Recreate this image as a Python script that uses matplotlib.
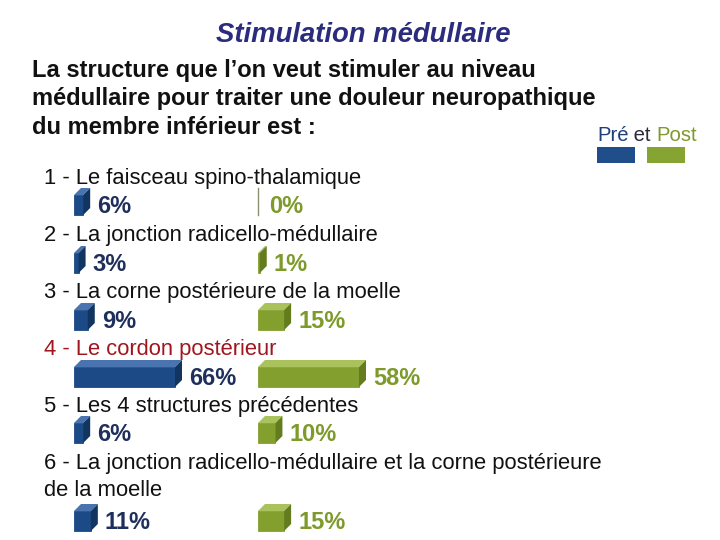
import matplotlib
matplotlib.use("Agg")
import matplotlib.pyplot as plt
from matplotlib.patches import Polygon, Rectangle

plt.rcParams['font.family'] = ['Liberation Sans', 'DejaVu Sans']

title = "Stimulation médullaire"
question = ["La structure que l\u2019on veut stimuler au niveau",
            "médullaire pour traiter une douleur neuropathique",
            "du membre inférieur est :"]
items = [["1 - Le faisceau spino-thalamique"],
         ["2 - La jonction radicello-médullaire"],
         ["3 - La corne postérieure de la moelle"],
         ["4 - Le cordon postérieur"],
         ["5 - Les 4 structures précédentes"],
         ["6 - La jonction radicello-médullaire et la corne postérieure",
          "de la moelle"]]
pre = [6, 3, 9, 66, 6, 11]
post = [0, 1, 15, 58, 10, 15]
correct_item = 3

# layout (pixel coordinates)
item_base = [184, 241, 298, 355, 412, 469]
bar_center = [205, 263, 320, 377, 433, 521]
line_gap = 27
bar_h = 20
max_w = 101
dx, dy = 7, 7
x_pre, x_post = 74, 258

pre_col = dict(front="#1C4A86", top="#4A74B0", side="#12355F", text="#1F2F5C")
post_col = dict(front="#83A02E", top="#A9C25C", side="#647C1E", text="#7D9A2B")

fig = plt.figure(figsize=(7.2, 5.4), dpi=100)
ax = fig.add_axes([0, 0, 1, 1])
ax.set_xlim(0, 720)
ax.set_ylim(540, 0)
ax.axis('off')

ax.text(363, 42, title, fontsize=19.8, fontweight='bold', fontstyle='italic',
        color="#2B2C7E", ha='center', va='baseline')
for i, ln in enumerate(question):
    ax.text(32, 77 + i * 28.5, ln, fontsize=17, fontweight='bold',
            color="#111111", ha='left', va='baseline')

t1 = ax.text(597, 141, "Pré", fontsize=14.6, color="#1F3F77", ha='left', va='baseline')
t2 = ax.annotate(" et ", xy=(1, 0), xycoords=t1, fontsize=14.6, color="#2A2A3A",
                 ha='left', va='bottom')
t3 = ax.annotate("Post", xy=(1, 0), xycoords=t2, fontsize=14.6, color="#7D9A2B",
                 ha='left', va='bottom')
ax.add_patch(Rectangle((597, 147), 38, 16, facecolor="#1F4E8A", edgecolor='none'))
ax.add_patch(Rectangle((647, 147), 38, 16, facecolor="#86A432", edgecolor='none'))

for i, lines in enumerate(items):
    col = "#A0161E" if i == correct_item else "#111111"
    for j, ln in enumerate(lines):
        ax.text(44, item_base[i] + j * line_gap, ln, fontsize=15.8, color=col,
                ha='left', va='baseline')


def draw_series(vals, x0, cols):
    vmax = max(vals)
    widths = [v / vmax * max_w for v in vals]
    bars = ax.barh(bar_center, widths, height=bar_h, left=x0,
                   color=cols["front"], edgecolor=cols["front"], linewidth=0.6,
                   zorder=3)
    for b, v in zip(bars, vals):
        x, y = b.get_x(), b.get_y()
        w, h = b.get_width(), b.get_height()
        if v > 0:
            top = Polygon([(x, y), (x + w, y), (x + w + dx, y - dy), (x + dx, y - dy)],
                          closed=True, facecolor=cols["top"], edgecolor='none', zorder=2)
            side = Polygon([(x + w, y), (x + w + dx, y - dy), (x + w + dx, y + h - dy),
                            (x + w, y + h)], closed=True, facecolor=cols["side"],
                           edgecolor='none', zorder=4)
            ax.add_patch(top)
            ax.add_patch(side)
            end = x + w + dx
        else:
            ax.plot([x, x], [y - dy, y + h], color="#8A9070", lw=1, zorder=3)
            end = x + 4
        ax.text(end + 7, y + h / 2 + 8, f"{v}%", fontsize=17, fontweight='bold',
                color=cols["text"], ha='left', va='baseline')


draw_series(pre, x_pre, pre_col)
draw_series(post, x_post, post_col)

fig.savefig("out.png", dpi=100)
